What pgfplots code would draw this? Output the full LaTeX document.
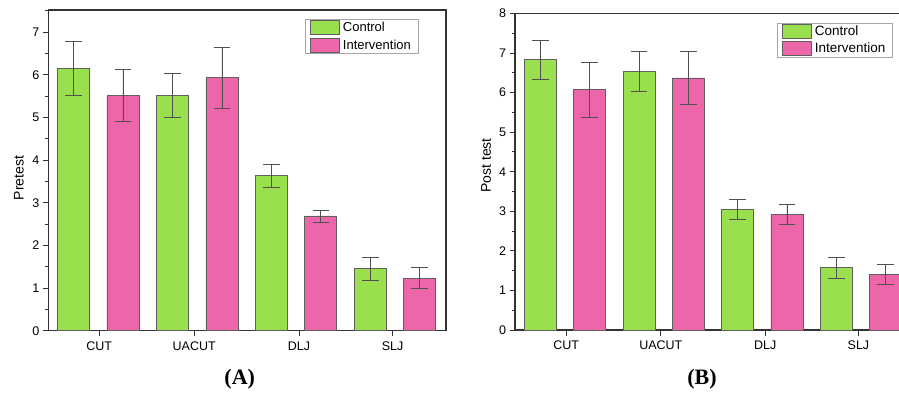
\documentclass[border=0pt]{standalone}
\usepackage{pgfplots}
\pgfplotsset{compat=1.18}
\usepackage{fontspec}
\setmainfont{Liberation Sans}
\newfontfamily\serifbold{Liberation Serif}
\definecolor{ctrl}{RGB}{154,223,78}
\definecolor{inter}{RGB}{237,102,170}
\definecolor{edge}{RGB}{95,95,95}
\definecolor{errc}{RGB}{80,80,80}
\pgfplotsset{
  myax/.style={
    scale only axis,
    ybar, bar width=32pt,
    axis line style={black!80, line width=1.1pt},
    tick align=outside,
    xtick pos=bottom, ytick pos=left,
    major tick length=5.5pt, minor tick length=3.5pt,
    every tick/.style={black!80, line width=0.9pt},
    xtick={1.52,3.44,5.56,7.45},
    xticklabels={CUT,UACUT,DLJ,SLJ},
    ytick distance=1, minor y tick num=1,
    tick label style={font=\fontsize{12.5}{14}\selectfont},
    /pgf/number format/assume math mode=true,
    xticklabel style={yshift=-2pt},
    legend cell align=left,
    legend image code/.code={\draw[##1] (0pt,-7pt) rectangle (29.4pt,7pt);},
    legend style={draw=black!35, line width=0.6pt, font=\fontsize{13}{15}\selectfont,
      inner xsep=4.2pt, inner ysep=1.2pt, row sep=2.4pt,
      nodes={inner xsep=2.8pt, inner ysep=0.2pt}, anchor=north east},
    clip=false,
  },
  ctrlbar/.style={fill=ctrl, draw=edge, line width=0.8pt, bar shift=0pt,
    error bars/.cd, y dir=both, y explicit,
    error bar style={errc, line width=0.8pt},
    error mark options={rotate=90, errc, line width=0.8pt, mark size=8.3pt}},
  interbar/.style={fill=inter, draw=edge, line width=0.8pt, bar shift=0pt,
    error bars/.cd, y dir=both, y explicit,
    error bar style={errc, line width=0.8pt},
    error mark options={rotate=90, errc, line width=0.8pt, mark size=8.3pt}},
}
\pgfplotstableread{
x y e
1 6.15 0.63
3 5.51 0.52
5 3.63 0.27
7 1.45 0.28
}\preCtrl
\pgfplotstableread{
x y e
2 5.51 0.61
4 5.93 0.71
6 2.69 0.14
8 1.235 0.245
}\preInter
\pgfplotstableread{
x y e
1 6.83 0.50
3 6.53 0.50
5 3.05 0.26
7 1.57 0.26
}\postCtrl
\pgfplotstableread{
x y e
2 6.07 0.69
4 6.37 0.68
6 2.92 0.26
8 1.40 0.25
}\postInter
\begin{document}
\begin{tikzpicture}
\begin{axis}[myax,
  at={(48.3pt,-330.7pt)}, anchor=south west,
  width=397.7pt, height=320.7pt,
  xmin=0.49, xmax=8.53, ymin=0, ymax=7.52,
  ylabel={Pretest},
  every axis y label/.style={at={(axis description cs:-0.074,0.476)}, rotate=90, anchor=center, font=\fontsize{14}{16}\selectfont},
  legend style={at={(axis description cs:0.93,0.972)}},
]
\addplot[ctrlbar] table[x=x,y=y,y error=e] {\preCtrl};
\addlegendentry{Control}
\addplot[interbar] table[x=x,y=y,y error=e] {\preInter};
\addlegendentry{Intervention}
\end{axis}
\begin{axis}[myax,
  at={(515pt,-330pt)}, anchor=south west,
  width=396.7pt, height=316.6pt,
  xmin=0.483, xmax=8.53, ymin=0, ymax=8,
  ylabel={Post test},
  every axis y label/.style={at={(axis description cs:-0.073,0.52)}, rotate=90, anchor=center, font=\fontsize{14}{16}\selectfont},
  legend style={at={(axis description cs:0.952,0.971)}, font=\fontsize{13.5}{15.5}\selectfont},
]
\addplot[ctrlbar] table[x=x,y=y,y error=e] {\postCtrl};
\addlegendentry{Control}
\addplot[interbar] table[x=x,y=y,y error=e] {\postInter};
\addlegendentry{Intervention}
\end{axis}
\node[font=\serifbold\bfseries\fontsize{22}{24}\selectfont] at (239.7pt,-379.5pt) {(A)};
\node[font=\serifbold\bfseries\fontsize{22}{24}\selectfont] at (702pt,-379.5pt) {(B)};
\pgfresetboundingbox
\path[use as bounding box] (0pt,-392pt) rectangle (899pt,0pt);
\end{tikzpicture}
\end{document}
